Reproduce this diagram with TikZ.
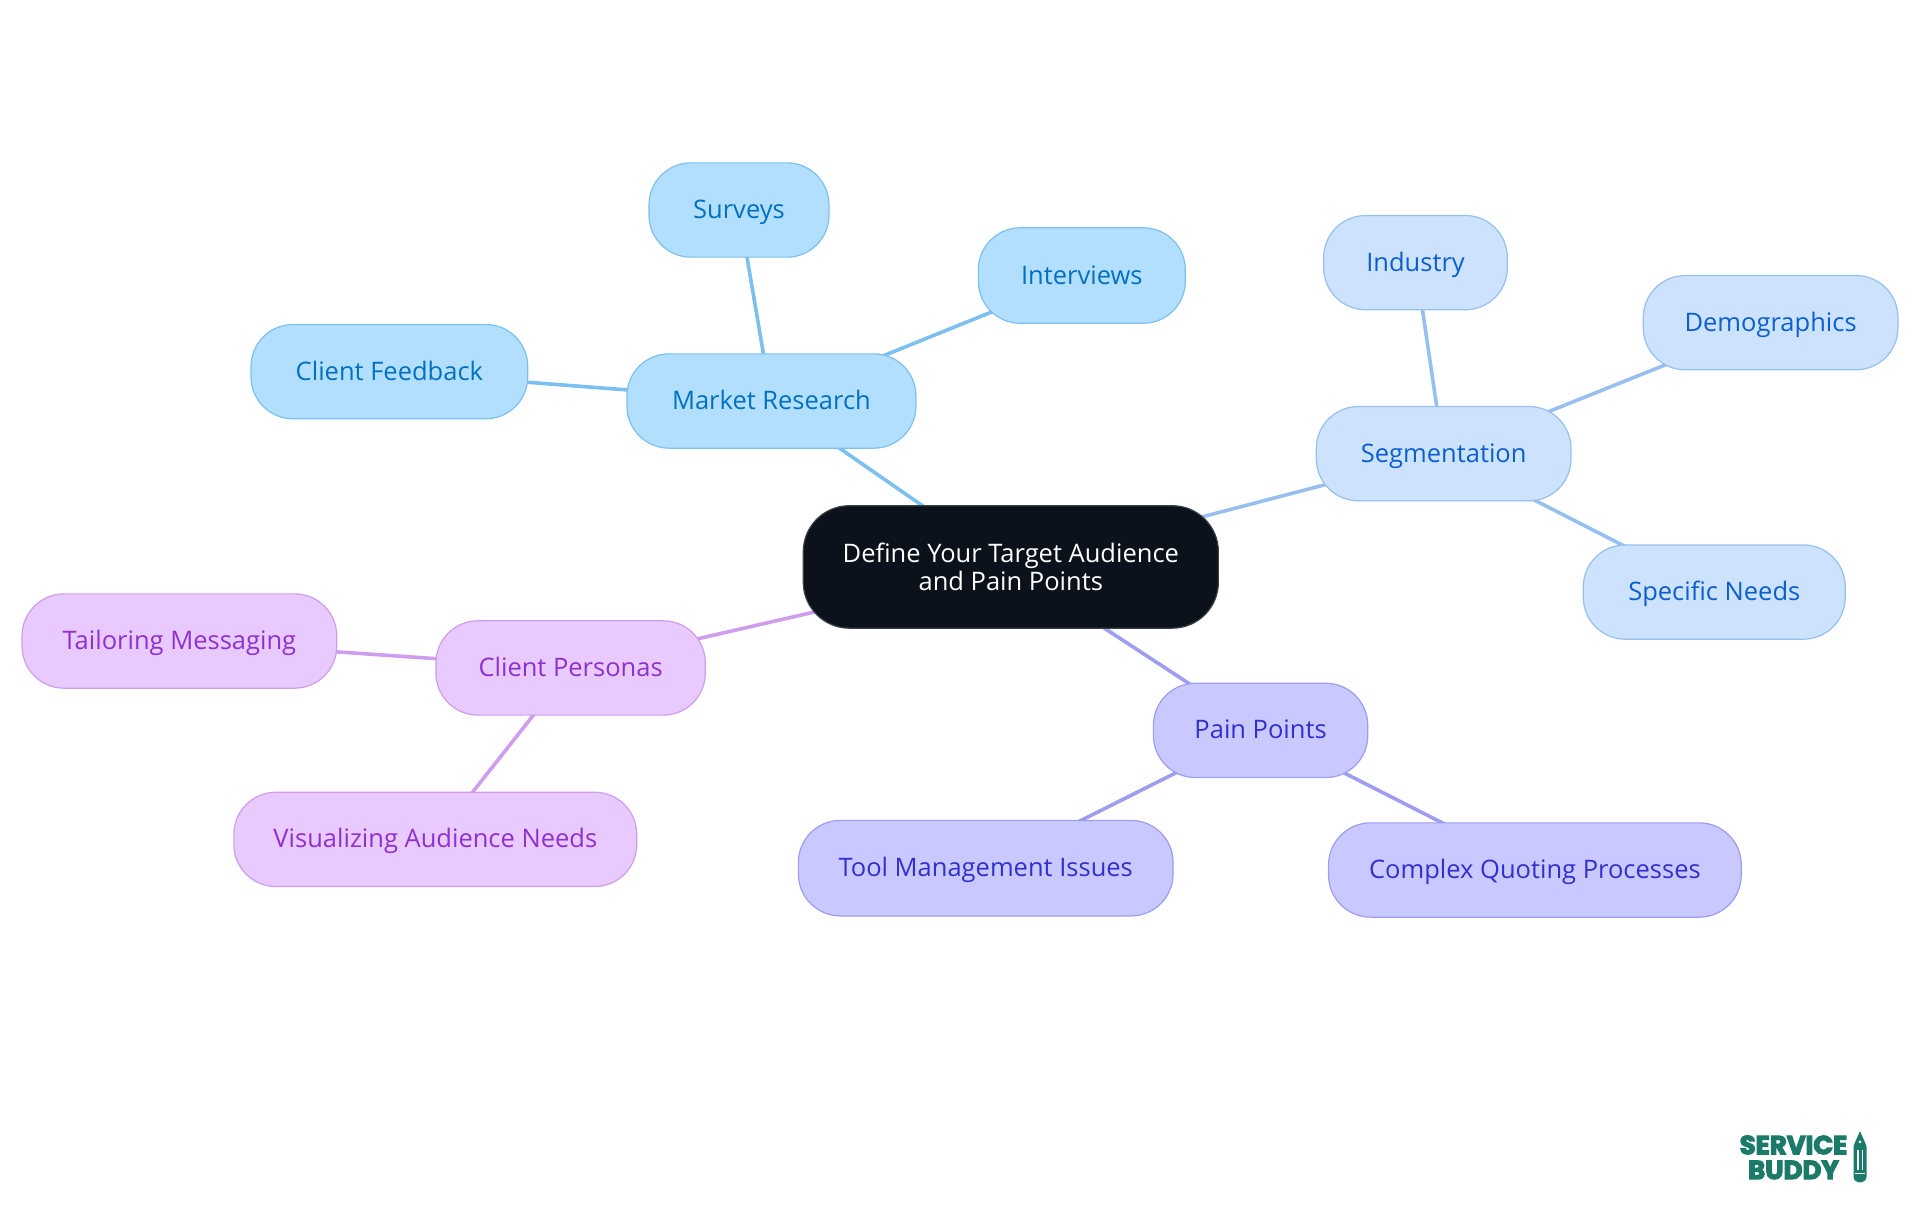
\documentclass[tikz,border=0pt]{standalone}
\usepackage{fontspec}
\setmainfont{Open Sans}
\newfontfamily\logofont[BoldFeatures={FakeBold=4.5}]{Poppins}
\usetikzlibrary{backgrounds}
\definecolor{mrfill}{HTML}{B3DFFF}\definecolor{mrline}{HTML}{7CC0F0}\definecolor{mrtext}{HTML}{0070C0}
\definecolor{sgfill}{HTML}{CCE2FD}\definecolor{sgline}{HTML}{97C0F0}\definecolor{sgtext}{HTML}{0B5FD0}
\definecolor{ppfill}{HTML}{C9C9FF}\definecolor{ppline}{HTML}{9D9DF2}\definecolor{pptext}{HTML}{3030D0}
\definecolor{cpfill}{HTML}{E8CAFF}\definecolor{cpline}{HTML}{CF9DF0}\definecolor{cptext}{HTML}{9030D0}
\definecolor{rootfill}{HTML}{0B121B}\definecolor{rootline}{HTML}{3A4048}\definecolor{logogreen}{HTML}{1C7A68}
\tikzset{
  pill/.style={draw,rectangle,rounded corners=42pt,line width=1.2pt,inner sep=0pt,font=\fontsize{25.5}{28}\selectfont,align=center},
  leaf/.style={pill,text height=20pt,text depth=3pt},
  mr/.style={leaf,fill=mrfill,draw=mrline,text=mrtext},
  sg/.style={leaf,fill=sgfill,draw=sgline,text=sgtext},
  pp/.style={leaf,fill=ppfill,draw=ppline,text=pptext},
  cp/.style={leaf,fill=cpfill,draw=cpline,text=cptext},
  rootn/.style={pill,rounded corners=46pt,fill=rootfill,draw=rootline,text=white},
  mrlink/.style={draw=mrline,line width=3.6pt},
  sglink/.style={draw=sgline,line width=3.6pt},
  pplink/.style={draw=ppline,line width=3.6pt},
  cplink/.style={draw=cpline,line width=3.6pt},
}
\newcommand{\pillnode}[7]{\node[#1,minimum width={(#4-#2)*1.2245pt},minimum height={(#5-#3)*1.2245pt}] (#6) at ({(#2+#4)/2},{(#3+#5)/2}) {#7};}
\begin{document}
\begin{tikzpicture}[x=1.2245pt,y=-1.2245pt]
\useasboundingbox (0,0) rectangle (1568,992.25);
\pillnode{rootn}{656}{413}{995}{513}{root}{Define Your Target Audience\\and Pain Points}
\pillnode{mr}{512}{289}{748}{366}{market}{Market Research}
\pillnode{mr}{530}{133}{677}{210}{surveys}{Surveys}
\pillnode{mr}{799}{186}{968}{264}{interviews}{Interviews}
\pillnode{mr}{205}{265}{431}{342}{feedback}{Client Feedback}
\pillnode{sg}{1075}{332}{1283}{409}{segment}{Segmentation}
\pillnode{sg}{1081}{176}{1231}{253}{industry}{Industry}
\pillnode{sg}{1342}{225}{1550}{302}{demo}{Demographics}
\pillnode{sg}{1293}{445}{1507}{522}{needs}{Specific Needs}
\pillnode{pp}{942}{558}{1117}{635}{pain}{Pain Points}
\pillnode{pp}{652}{670}{958}{748}{tool}{Tool Management Issues}
\pillnode{pp}{1085}{672}{1422}{749}{quote}{Complex Quoting Processes}
\pillnode{cp}{356}{507}{576}{584}{persona}{Client Personas}
\pillnode{cp}{18}{485}{275}{562}{tailor}{Tailoring Messaging}
\pillnode{cp}{191}{647}{520}{724}{visual}{Visualizing Audience Needs}
\begin{pgfonlayer}{background}
\draw[mrlink] (root.center) -- (market.center);
\draw[mrlink] (market.center) -- (surveys.center);
\draw[mrlink] (market.center) -- (interviews.center);
\draw[mrlink] (market.center) -- (feedback.center);
\draw[sglink] (root.center) -- (segment.center);
\draw[sglink] (segment.center) -- (industry.center);
\draw[sglink] (segment.center) -- (demo.center);
\draw[sglink] (segment.center) -- (needs.center);
\draw[pplink] (root.center) -- (pain.center);
\draw[pplink] (pain.center) -- (tool.center);
\draw[pplink] (pain.center) -- (quote.center);
\draw[cplink] (root.center) -- (persona.center);
\draw[cplink] (persona.center) -- (tailor.center);
\draw[cplink] (persona.center) -- (visual.center);
\end{pgfonlayer}
\begin{scope}[x=1pt,y=-1pt]
\node[text=logogreen,font=\logofont\bfseries\fontsize{26}{26}\selectfont,inner sep=0pt] (logoa) at (1793.5,1145) {SERVICE};
\node[text=logogreen,font=\logofont\bfseries\fontsize{26}{26}\selectfont,inner sep=0pt] (logob) at (1793.5,1170) {BUDDY};
\fill[logogreen,rounded corners=1pt] (1860,1131) -- (1866.5,1146) -- (1866.5,1176) arc[start angle=0,end angle=180,radius=6.5] -- (1853.5,1146) -- cycle;
\fill[white] (1860,1142) circle (1.5);
\fill[white] (1857.3,1150) rectangle (1858.5,1170);
\fill[white] (1861.5,1150) rectangle (1862.7,1170);
\fill[white] (1855,1173) rectangle (1865,1174.5);
\end{scope}
\end{tikzpicture}
\end{document}
